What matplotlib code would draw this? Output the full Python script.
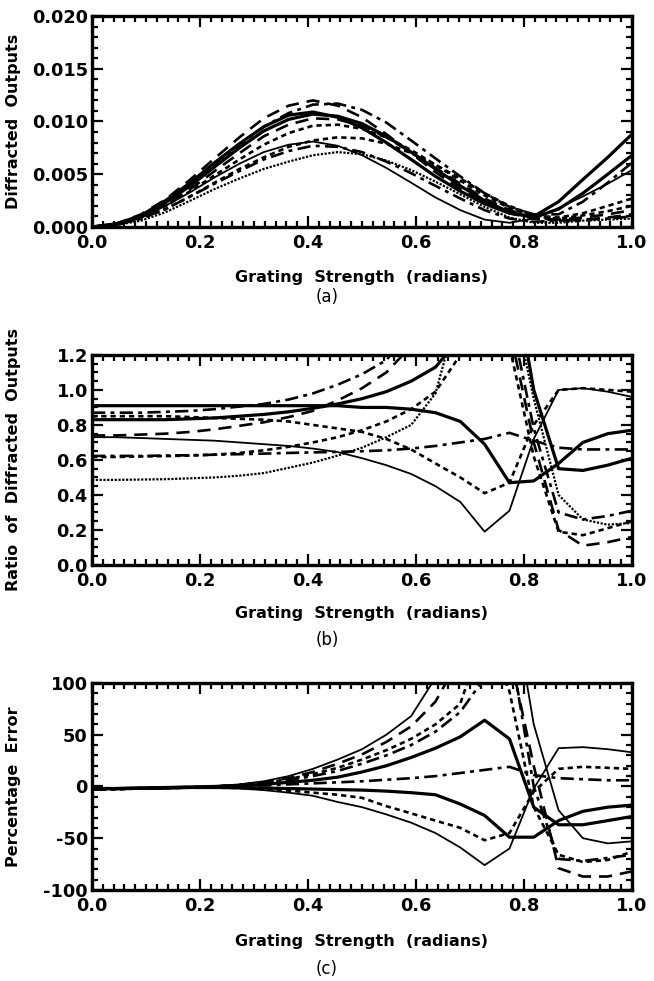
import matplotlib
matplotlib.use("Agg")
import matplotlib.pyplot as plt
from matplotlib.ticker import MultipleLocator, FormatStrFormatter

plt.rcParams['font.family'] = ['DejaVu Sans']

# grating strength samples (radians)
grating = [0.000, 0.045, 0.091, 0.136, 0.182, 0.227, 0.273, 0.318, 0.364, 0.409, 0.455, 0.500,
           0.545, 0.591, 0.636, 0.682, 0.727, 0.773, 0.818, 0.864, 0.909, 0.955, 1.000]

# (a) diffracted outputs
out_dash_hi = [0, .0003, .0012, .0026, .0045, .0065, .0085, .0103, .0115, .0120, .0115, .0104,
               .0088, .0070, .0052, .0036, .0023, .0013, .0008, .0007, .0009, .0012, .0016]
out_dashdot_hi = [0, .0003, .0010, .0023, .0040, .0059, .0078, .0095, .0108, .0116, .0117, .0111,
                  .0099, .0082, .0065, .0048, .0032, .0019, .0012, .0012, .0024, .0042, .0061]
out_solid_1 = [0, .0003, .0011, .0025, .0042, .0061, .0079, .0095, .0106, .0109, .0104, .0094,
               .0080, .0064, .0048, .0034, .0022, .0013, .0010, .0024, .0045, .0066, .0088]
out_solid_2 = [0, .0003, .0010, .0023, .0039, .0057, .0075, .0091, .0102, .0107, .0105, .0098,
               .0086, .0071, .0055, .0039, .0025, .0014, .0009, .0017, .0032, .0050, .0068]
out_dash_lo = [0, .0002, .0009, .0021, .0036, .0053, .0070, .0086, .0097, .0103, .0102, .0096,
               .0085, .0071, .0056, .0041, .0027, .0016, .0009, .0006, .0007, .0009, .0012]
out_dot_1 = [0, .0002, .0009, .0020, .0034, .0049, .0064, .0078, .0089, .0096, .0097, .0093,
             .0085, .0073, .0059, .0044, .0030, .0018, .0010, .0008, .0011, .0015, .0020]
out_dot_2 = [0, .0002, .0008, .0017, .0029, .0042, .0055, .0066, .0076, .0082, .0085, .0084,
             .0079, .0070, .0059, .0046, .0032, .0020, .0011, .0009, .0013, .0020, .0027]
out_solid_3 = [0, .0002, .0009, .0020, .0033, .0047, .0060, .0071, .0078, .0081, .0077, .0068,
               .0056, .0042, .0028, .0016, .0007, .0004, .0008, .0018, .0029, .0041, .0054]
out_dashdot_lo = [0, .0002, .0008, .0017, .0029, .0041, .0053, .0064, .0072, .0077, .0076, .0071,
                  .0062, .0051, .0039, .0027, .0016, .0008, .0005, .0006, .0007, .0008, .0010]
out_fine = [0, .0002, .0006, .0014, .0025, .0036, .0046, .0055, .0062, .0068, .0071, .0069,
            .0063, .0054, .0043, .0031, .0019, .0009, .0004, .0004, .0006, .0007, .0008]

# (b) ratio of diffracted outputs
ratio_solid_flat = [.91, .91, .91, .91, .91, .91, .91, .91, .91, .91, .91, .90,
                    .90, .89, .87, .82, .69, .47, .48, .58, .70, .75, .77]
ratio_dashdot_up = [.87, .87, .87, .875, .88, .89, .905, .92, .945, .98, 1.03, 1.09,
                    1.17, 1.35, 1.7, 2.5, 4.0, 1.45, .78, .30, .26, .28, .31]
ratio_dot_down = [.85, .85, .85, .85, .845, .84, .835, .83, .82, .80, .78, .76,
                  .72, .66, .58, .50, .41, .47, .80, 1.00, 1.01, 1.00, .99]
ratio_dash_up = [.74, .74, .745, .75, .76, .775, .795, .815, .845, .88, .94, 1.01,
                 1.10, 1.25, 1.6, 2.4, 4.0, 1.35, .70, .20, .11, .13, .16]
ratio_solid_up = [.83, .83, .83, .83, .835, .84, .85, .86, .875, .895, .92, .95,
                  .99, 1.05, 1.13, 1.30, 1.6, 1.8, 1.00, .55, .54, .57, .61]
ratio_thin_down = [.73, .73, .725, .72, .715, .71, .70, .69, .68, .665, .645, .61,
                   .57, .52, .45, .36, .19, .31, .72, 1.00, 1.01, .99, .96]
ratio_dashdot_flat = [.623, .623, .623, .625, .627, .63, .633, .636, .64, .643, .646, .65,
                      .655, .665, .68, .70, .72, .755, .71, .67, .66, .66, .66]
ratio_dot_up = [.617, .617, .62, .622, .625, .63, .64, .655, .675, .70, .73, .77,
                .82, .89, .99, 1.20, 1.8, 1.25, .62, .19, .17, .21, .25]
ratio_thin_up = [.486, .486, .488, .49, .495, .50, .51, .525, .555, .585, .625, .67,
                 .73, .80, .98, 1.5, 2.0, 1.6, .95, .40, .26, .23, .24]

# (c) percentage error
err_thin_up = [-3, -2.5, -2, -1.5, -1, 0, 2, 5, 10, 17, 26, 36,
               50, 68, 105, 160, 220, 200, 60, -23, -50, -55, -53]
err_dash_up = [-3, -2.5, -2, -1.5, -1, 0, 1.5, 4, 8, 14, 22, 31,
               43, 58, 82, 125, 170, 130, 20, -79, -87, -87, -82]
err_dot_up = [-3, -2.5, -2, -1.5, -1, 0, 1.5, 3.5, 7, 12, 18, 26,
              35, 46, 60, 80, 150, 92, -20, -66, -73, -71, -63]
err_dashdot_up = [-3, -2.5, -2, -1.5, -1, 0, 1, 3, 6, 10, 15, 22,
                  30, 40, 53, 72, 105, 140, 0, -70, -72, -69, -66]
err_solid_peak = [-2, -2, -1.5, -1, -0.5, 0, 1, 2, 4, 6, 9, 14,
                  20, 28, 37, 48, 64, 46, -20, -37, -37, -33, -29]
err_solid_down = [-2, -2, -1.5, -1.5, -1, -1, -1, -1.5, -2, -2.5, -3, -3.5,
                  -4.5, -6, -8, -17, -28, -49, -49, -33, -24, -20, -18]
err_dashdot_mid = [-2, -2, -1.5, -1, -0.5, 0, 0.5, 1, 2, 3, 4, 5,
                   6.5, 8, 10, 13, 16, 19, 11, 8, 7, 6, 6]
err_dot_down = [-3, -2.5, -2, -1.5, -1, -1, -1.5, -2.5, -4, -6, -8, -11,
                -19, -26, -33, -40, -52, -45, -5, 17, 19, 18, 17]
err_thin_down = [-3, -2.5, -2, -2, -1.5, -1.5, -2, -3.5, -6, -9, -15, -20,
                 -27, -35, -45, -59, -76, -60, -2, 37, 38, 36, 33]

# line styles
SOLID_THICK = dict(ls='-', lw=2.3)
SOLID_THIN = dict(ls='-', lw=1.3)
DASHED = dict(ls=(0, (5, 3)), lw=1.9)
DOTTED = dict(ls=(0, (2, 1.5)), lw=1.9)
DASHDOT = dict(ls=(0, (5, 2, 1.5, 2)), lw=1.9)
FINE = dict(ls=(0, (1, 0.7)), lw=1.6)

panel_a = [(out_dash_hi, DASHED), (out_dashdot_hi, DASHDOT), (out_solid_1, SOLID_THICK),
           (out_solid_2, SOLID_THICK), (out_dash_lo, DASHED), (out_dot_1, DOTTED),
           (out_dot_2, DOTTED), (out_solid_3, SOLID_THIN), (out_dashdot_lo, DASHDOT),
           (out_fine, FINE)]
panel_b = [(ratio_solid_flat, SOLID_THICK), (ratio_dashdot_up, DASHDOT), (ratio_dot_down, DOTTED),
           (ratio_dash_up, DASHED), (ratio_solid_up, SOLID_THICK), (ratio_thin_down, SOLID_THIN),
           (ratio_dashdot_flat, DASHDOT), (ratio_dot_up, DOTTED), (ratio_thin_up, FINE)]
panel_c = [(err_thin_up, SOLID_THIN), (err_dash_up, DASHED), (err_dot_up, DOTTED),
           (err_dashdot_up, DASHDOT), (err_solid_peak, SOLID_THICK), (err_solid_down, SOLID_THICK),
           (err_dashdot_mid, DASHDOT), (err_dot_down, DOTTED), (err_thin_down, SOLID_THIN)]

fig = plt.figure(figsize=(6.54, 9.81), dpi=100)

panels = [
    # rect, curves, ylim, major, minor, fmt, ylabel, tag, xlabel_y, tag_y
    ([0.1407, 0.7686, 0.8257, 0.2151], panel_a, (0, 0.02), 0.005, 0.001, '%.3f',
     'Diffracted  Outputs', '(a)', 0.7176, 0.697),
    ([0.1407, 0.4241, 0.8257, 0.2141], panel_b, (0, 1.2), 0.2, 0.05, '%.1f',
     'Ratio  of  Diffracted  Outputs', '(b)', 0.375, 0.3476),
    ([0.1407, 0.0928, 0.8257, 0.2110], panel_c, (-100, 100), 50, 10, '%d',
     'Percentage  Error', '(c)', 0.0398, 0.012),
]

for rect, curves, ylim, major, minor, fmt, ylabel, tag, xl_y, tag_y in panels:
    ax = fig.add_axes(rect)
    for ys, st in curves:
        ax.plot(grating, ys, color='black', solid_capstyle='butt', dash_capstyle='butt', **st)
    ax.set_xlim(0, 1)
    ax.set_ylim(*ylim)
    ax.xaxis.set_major_locator(MultipleLocator(0.2))
    ax.xaxis.set_minor_locator(MultipleLocator(0.02))
    ax.yaxis.set_major_locator(MultipleLocator(major))
    ax.yaxis.set_minor_locator(MultipleLocator(minor))
    ax.xaxis.set_major_formatter(FormatStrFormatter('%.1f'))
    ax.yaxis.set_major_formatter(FormatStrFormatter(fmt))
    ax.tick_params(which='both', direction='in', top=True, right=True, width=1.6)
    ax.tick_params(which='major', length=8)
    ax.tick_params(which='minor', length=4.5)
    ax.tick_params(axis='x', pad=5)
    ax.tick_params(axis='y', pad=3)
    for lab in ax.get_xticklabels() + ax.get_yticklabels():
        lab.set_fontsize(12.8)
        lab.set_fontweight('bold')
    for sp in ax.spines.values():
        sp.set_linewidth(2.4)
    ax.set_ylabel(ylabel, fontsize=11.5, fontweight='bold')
    ax.yaxis.set_label_coords(-0.131, 0.5)
    fig.text(0.553, xl_y, 'Grating  Strength  (radians)', ha='center', va='center',
             fontsize=11.5, fontweight='bold')
    fig.text(0.5, tag_y, tag, ha='center', va='center', fontsize=12)

fig.savefig('out.png', dpi=100)
